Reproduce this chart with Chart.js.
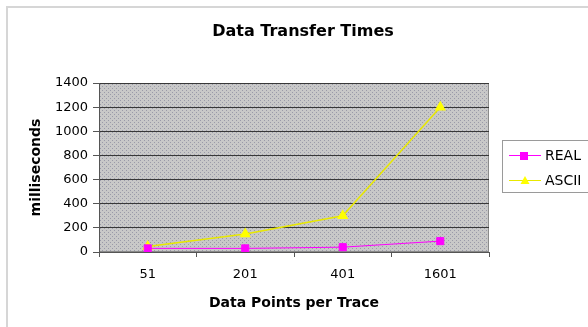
<!DOCTYPE html>
<html>
<head>
<meta charset="utf-8">
<script src="https://cdn.jsdelivr.net/npm/chart.js@4/dist/chart.umd.min.js"></script>
<style>
  html, body { margin: 0; padding: 0; background: #fff; }
  #wrap { width: 588px; height: 327px; position: relative; }
</style>
</head>
<body>
<div id="wrap"><canvas id="chart" width="588" height="327"></canvas></div>
<script>
// data
const chartTitle = 'Data Transfer Times';
const categories = ['51', '201', '401', '1601'];
const realTimes = [30, 30, 40, 90];
const asciiTimes = [45, 150, 300, 1200];
const yTicks = [0, 200, 400, 600, 800, 1000, 1200, 1400];

const FONT = '"DejaVu Sans", Verdana, sans-serif';

// dotted gray fill like the old Excel plot area
const makePattern = (ctx) => {
    const tile = document.createElement('canvas');
    tile.width = 4; tile.height = 4;
    const t = tile.getContext('2d');
    t.fillStyle = '#c8c8c8';
    t.fillRect(0, 0, 4, 4);
    t.fillStyle = '#9a9aa8';
    t.fillRect(0, 0, 1, 1);
    t.fillRect(2, 2, 1, 1);
    return ctx.createPattern(tile, 'repeat');
};

const frame = {
    id: 'frame',
    beforeDraw(chart) {
        const { ctx, chartArea: a } = chart;
        ctx.save();
        // outer chart border (only top/left visible in the crop)
        ctx.strokeStyle = '#d6d6d6';
        ctx.lineWidth = 2;
        ctx.strokeRect(7, 7, 600, 400);
        // title, centred a bit right of the plot like the original
        ctx.fillStyle = '#000';
        ctx.font = 'bold 16px ' + FONT;
        ctx.textAlign = 'center';
        ctx.textBaseline = 'middle';
        ctx.fillText(chartTitle, 303, 32);
        // plot area
        ctx.fillStyle = makePattern(ctx);
        ctx.fillRect(a.left, a.top, a.right - a.left, a.bottom - a.top);
        ctx.strokeStyle = '#8a8a8a';
        ctx.lineWidth = 1;
        ctx.strokeRect(a.left + 0.5, a.top + 0.5, a.right - a.left - 1, a.bottom - a.top - 1);
        ctx.restore();
    },
    afterDraw(chart) {
        // legend box with line + marker samples
        const { ctx } = chart;
        const x = 502, y = 140, w = 100, h = 52;
        ctx.save();
        ctx.fillStyle = '#fff';
        ctx.fillRect(x, y, w, h);
        ctx.strokeStyle = '#9a9a9a';
        ctx.lineWidth = 1;
        ctx.strokeRect(x + 0.5, y + 0.5, w, h);
        chart.data.datasets.forEach((ds, i) => {
            const cy = y + 15 + i * 25;
            ctx.strokeStyle = ds.borderColor;
            ctx.lineWidth = 1;
            ctx.beginPath();
            ctx.moveTo(509, cy + 0.5);
            ctx.lineTo(541, cy + 0.5);
            ctx.stroke();
            ctx.fillStyle = ds.pointBackgroundColor;
            if (ds.pointStyle === 'rect') {
                ctx.fillRect(520, cy - 3, 8, 8);
            } else {
                ctx.beginPath();
                ctx.moveTo(525, cy - 4);
                ctx.lineTo(529.5, cy + 4);
                ctx.lineTo(520.5, cy + 4);
                ctx.closePath();
                ctx.fill();
            }
            ctx.fillStyle = '#000';
            ctx.font = '14px ' + FONT;
            ctx.textBaseline = 'middle';
            ctx.textAlign = 'left';
            ctx.fillText(ds.label, 545, cy + 1);
        });
        ctx.restore();
    }
};

new Chart(document.getElementById('chart'), {
    type: 'line',
    data: {
        labels: categories,
        datasets: [{
            label: 'REAL',
            data: realTimes,
            borderColor: '#ff00ff',
            borderWidth: 1,
            pointStyle: 'rect',
            pointRadius: 5,
            pointBackgroundColor: '#ff00ff',
            pointBorderColor: '#ff00ff',
            tension: 0
        }, {
            label: 'ASCII',
            data: asciiTimes,
            borderColor: '#e8e800',
            borderWidth: 1.5,
            pointStyle: 'triangle',
            pointRadius: 5,
            pointBackgroundColor: '#ffff00',
            pointBorderColor: '#ffff00',
            tension: 0
        }]
    },
    options: {
        responsive: false,
        animation: false,
        devicePixelRatio: 1,
        layout: { padding: { left: 0, right: 99, top: 83, bottom: 0 } },
        plugins: {
            legend: { display: false },
            tooltip: { enabled: false },
            title: { display: false }
        },
        scales: {
            x: {
                offset: true,
                afterFit: s => { s.height = 75; },
                grid: {
                    offset: true,
                    drawOnChartArea: false,
                    drawTicks: true,
                    tickLength: 5,
                    color: '#555'
                },
                border: { color: '#555' },
                ticks: {
                    color: '#000',
                    font: { family: FONT, size: 13 },
                    padding: 10
                },
                title: {
                    display: true,
                    text: 'Data Points per Trace',
                    color: '#000',
                    font: { family: FONT, size: 14, weight: 'bold' },
                    padding: { top: 0, bottom: 15.6 }
                }
            },
            y: {
                min: 0,
                max: 1400,
                afterFit: s => { s.width = 99; },
                afterBuildTicks: s => { s.ticks = yTicks.map(v => ({ value: v })); },
                grid: {
                    color: '#383838',
                    drawTicks: true,
                    tickLength: 6,
                    tickColor: '#555'
                },
                border: { color: '#555' },
                ticks: {
                    color: '#000',
                    font: { family: FONT, size: 13 },
                    padding: 5,
                    callback: v => String(v)
                },
                title: {
                    display: true,
                    text: 'milliseconds',
                    color: '#000',
                    font: { family: FONT, size: 14, weight: 'bold' },
                    padding: { top: 27.6, bottom: 0 }
                }
            }
        }
    },
    plugins: [frame]
});
</script>
</body>
</html>
